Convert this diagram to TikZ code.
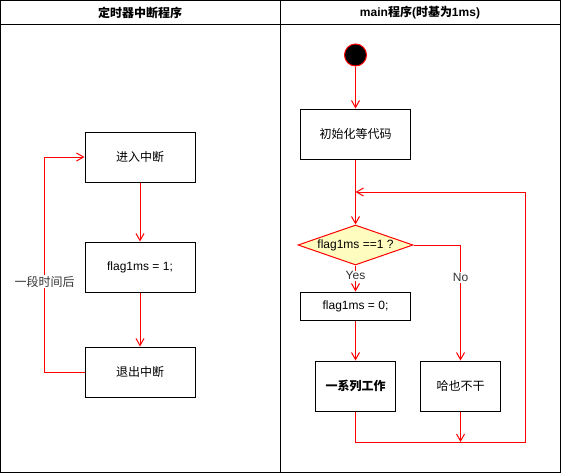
\documentclass[tikz,border=0pt]{standalone}
\usepackage{fontspec}
\setmainfont{Liberation Sans}
\newfontfamily\cjk{Noto Sans CJK SC}
\usetikzlibrary{positioning,arrows.meta,shapes.geometric}

\begin{document}
\begin{tikzpicture}[x=1pt, y=-1pt, line width=1pt,
    >={Straight Barb[length=7pt,width=8pt]},
    lat/.style={font=\fontsize{12}{14}\selectfont},
    zh/.style={font=\fontsize{12}{14}\selectfont\cjk},
    head/.style={font=\fontsize{12}{14}\selectfont\bfseries},
    box/.style={draw, minimum width=110pt, minimum height=50pt, inner sep=0pt},
    small/.style={draw, minimum width=80pt, minimum height=50pt, inner sep=0pt},
    flow/.style={draw=red, ->},
    lbl/.style={fill=white, inner sep=1pt, text=black!80}]
  \useasboundingbox (0,0) rectangle (562,474);
  % lanes
  \draw (0.5,0.5) rectangle (560.5,472.5);
  \draw (0.5,24.5) -- (560.5,24.5);
  \draw (280,0.5) -- (280,472.5);
  \node (lhead) [head] at (140,12.5) {\cjk 定时器中断程序};
  \node (rhead) [head] at (420,12.5) {main{\cjk 程序}({\cjk 时基为}1ms)};

  % timer interrupt
  \node (enter) [box, zh] at (140,157) {进入中断};
  \node (set1)  [box, lat, below=59pt of enter] {flag1ms = 1;};
  \node (leave) [box, zh, below=54pt of set1] {退出中断};
  \draw[flow] (enter) -- (set1);
  \draw[flow] (set1) -- (leave);
  \draw[flow] (leave.west) -- ++(-40pt,0) coordinate (foot)
    -- node[lbl, zh, pos=0.42] {一段时间后} (foot |- enter.west) -- (enter.west);

  % main loop
  \node (start) [circle, draw=red, fill=black, minimum size=22pt, inner sep=0pt]
    at (355.5,55) {};
  \node (init)  [box, zh, below=42pt of start] {初始化等代码};
  \node (test)  [diamond, draw=red, fill=yellow!25, lat, shape aspect=2.875,
                 minimum width=115pt, minimum height=40pt, inner sep=0pt,
                 below=65pt of init] {flag1ms ==1 ?};
  \node (clear) [box, lat, minimum height=28pt, below=26pt of test] {flag1ms = 0;};
  \node (work)  [small, zh, below=40pt of clear] {\bfseries 一系列工作};
  \node (idle)  [small, zh, right=24pt of work] {哈也不干};
  \coordinate (merge) at (460,442);
  \coordinate (back) at (525.5,192);
  \draw[flow] (start) -- (init);
  \draw[flow] (init) -- (test);
  \draw[flow] (test) -- node[lbl, lat, pos=0.4] {Yes} (clear);
  \draw[flow] (test.east) -| node[lbl, lat, pos=0.64] {No} (idle.north);
  \draw[flow] (clear) -- (work);
  \draw[flow] (idle) -- (idle.south |- merge);
  \draw[flow] (work.south) |- (back |- merge) -- (back) -- (back -| init.south);
\end{tikzpicture}
\end{document}
